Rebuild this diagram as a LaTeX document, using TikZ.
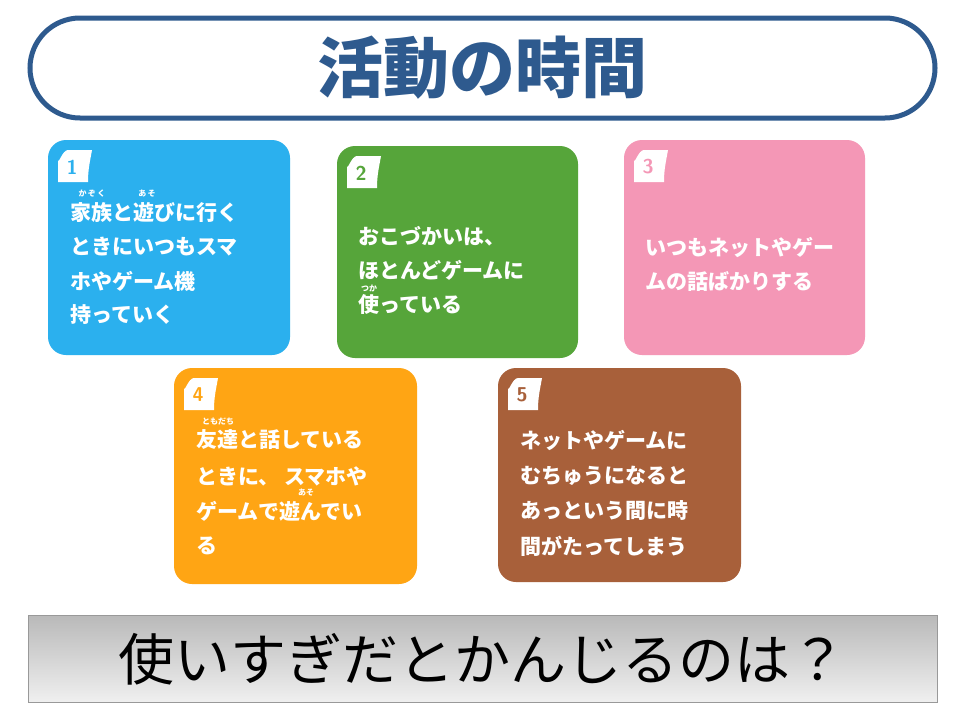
\documentclass[tikz,border=0pt]{standalone}
\usepackage{fontspec}
\newfontfamily\cjk{Noto Sans CJK JP}
\definecolor{navy}{HTML}{2E5A8E}
\definecolor{cA}{HTML}{2BB0EE}
\definecolor{cB}{HTML}{56A53A}
\definecolor{cC}{HTML}{F497B6}
\definecolor{cD}{HTML}{FFA514}
\definecolor{cE}{HTML}{A8603A}
\begin{document}
\begin{tikzpicture}[x=1pt,y=-1pt,
  card/.style={fill=#1,rounded corners=18pt},
  txt/.style={anchor=west,text=white,font=\cjk\bfseries\fontsize{21}{21}\selectfont,inner sep=0pt},
  ruby/.style={text=white,font=\cjk\bfseries\fontsize{8}{8}\selectfont,inner sep=0pt},
  num/.style={text=#1,font=\sffamily\bfseries\fontsize{20}{20}\selectfont,inner sep=0pt}]
\useasboundingbox (0,0) rectangle (964,720);
\fill[white] (0,0) rectangle (964,720);
% title
\draw[navy,line width=5pt,fill=white,rounded corners=50pt] (30,18) rectangle (935,118);
\node[text=navy,font=\cjk\bfseries\fontsize{66}{66}\selectfont] (title) at (482,68) {活動の時間};
% tab macro
\newcommand{\tabshape}[3]{%
  \fill[white] (#1+6,#2+38) -- (#1+6,#2+16) to[out=-90,in=180] (#1+16,#2+6) -- (#1+40,#2+6)
    to[out=-100,in=90] (#1+36,#2+38) -- cycle;
  \node[num=#3] at (#1+20,#2+23) {};}
% cards
\fill[card=cA] (48,140) rectangle (290,355);
\fill[card=cB] (337,146) rectangle (578,358);
\fill[card=cC] (624,140) rectangle (865,355);
\fill[card=cD] (174,368) rectangle (417,584);
\fill[card=cE] (498,368) rectangle (741,582);
\tabshape{52}{144}{cA}\node[num=cA] (n1) at (72,167) {1};
\tabshape{341}{150}{cB}\node[num=cB] (n2) at (361,173) {2};
\tabshape{628}{144}{cC}\node[num=cC] (n3) at (648,167) {3};
\tabshape{178}{372}{cD}\node[num=cD] (n4) at (198,395) {4};
\tabshape{502}{372}{cE}\node[num=cE] (n5) at (522,395) {5};
% card 1
\node[ruby] (r1a) at (92,194) {か\,ぞ\,く};
\node[ruby] (r1b) at (147,194) {あ\,そ};
\node[txt] (t1a) at (70,212) {家族と遊びに行く};
\node[txt] (t1b) at (70,247) {ときにいつもスマ};
\node[txt] (t1c) at (70,281) {ホやゲーム機};
\node[txt] (t1d) at (70,315) {持っていく};
% card 2
\node[txt] (t2a) at (358,236) {おこづかいは、};
\node[txt] (t2b) at (358,270) {ほとんどゲームに};
\node[ruby] (r2a) at (369,288) {つか};
\node[txt] (t2c) at (358,304) {使っている};
% card 3
\node[txt] (t3a) at (645,247) {いつもネットやゲー};
\node[txt] (t3b) at (645,282) {ムの話ばかりする};
% card 4
\node[ruby] (r4a) at (218,422) {ともだち};
\node[txt] (t4a) at (196,440) {友達と話している};
\node[txt] (t4b) at (196,476) {ときに、 スマホや};
\node[ruby] (r4b) at (306,493) {あそ};
\node[txt] (t4c) at (196,511) {ゲームで遊んでい};
\node[txt] (t4d) at (196,546) {る};
% card 5
\node[txt] (t5a) at (520,440) {ネットやゲームに};
\node[txt] (t5b) at (520,476) {むちゅうになると};
\node[txt] (t5c) at (520,511) {あっという間に時};
\node[txt] (t5d) at (520,546) {間がたってしまう};
% bottom
\shade[top color=gray!55,bottom color=gray!12] (28,615) rectangle (937,702);
\draw[gray!80,line width=1pt] (28,615) rectangle (937,702);
\node[font=\cjk\fontsize{56}{56}\selectfont] (q) at (482,659) {使いすぎだとかんじるのは？};
\end{tikzpicture}
\end{document}
